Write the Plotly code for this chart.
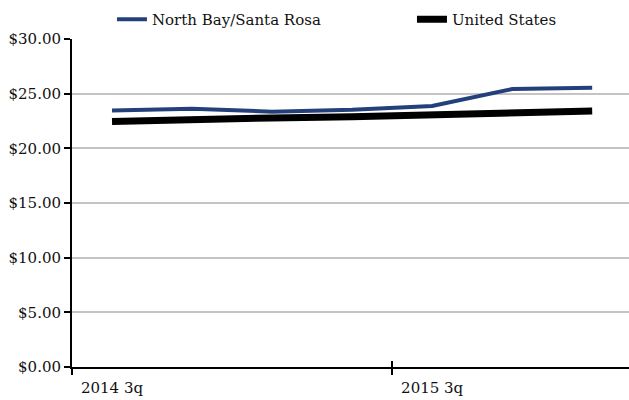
import plotly.graph_objects as go

# Average hourly wage by quarter
quarters = ["2014 3q", "2014 4q", "2015 1q", "2015 2q", "2015 3q", "2015 4q", "2016 1q"]
north_bay = [23.45, 23.62, 23.35, 23.52, 23.88, 25.42, 25.55]
united_states = [22.45, 22.68, 22.78, 22.9, 23.08, 23.36, 23.42]

label_quarters = ["2014 3q", "2015 3q"]
y_ticks = [0, 5, 10, 15, 20, 25, 30]

xpos = list(range(len(quarters)))
label_pos = [quarters.index(q) for q in label_quarters]
boundary_pos = [p - 0.5 for p in label_pos]
x_range = [-0.5, 6.46]

FONT = "DejaVu Serif"
TXT = dict(family=FONT, size=15, color="#111111")

fig = go.Figure()
fig.add_trace(go.Scatter(
    x=xpos, y=north_bay, name="North Bay/Santa Rosa", mode="lines",
    line=dict(color="#24407a", width=4), xaxis="x", legendwidth=255,
))
fig.add_trace(go.Scatter(
    x=xpos, y=united_states, name="United States", mode="lines",
    line=dict(color="#000000", width=7), xaxis="x",
))

fig.update_layout(
    width=629, height=400,
    margin=dict(l=72, r=0, t=39, b=33, autoexpand=False),
    plot_bgcolor="white", paper_bgcolor="white",
    font=TXT,
    showlegend=True,
    legend=dict(
        orientation="h", x=0.178, y=0.9925, xref="container", yref="container",
        yanchor="top", xanchor="left",
        font=TXT, itemwidth=30, bgcolor="rgba(0,0,0,0)",
    ),
    xaxis=dict(
        range=x_range, showgrid=False, zeroline=False,
        tickmode="array", tickvals=boundary_pos, ticktext=["", ""],
        ticks="outside", ticklen=6, tickwidth=2, tickcolor="#000",
        showline=True, linecolor="#000", linewidth=2,
        showticklabels=False, layer="above traces",
    ),
    xaxis2=dict(
        overlaying="x", side="bottom", range=x_range, showgrid=False,
        zeroline=False, tickmode="array", tickvals=boundary_pos,
        ticks="inside", ticklen=6, tickwidth=2, tickcolor="#000",
        showticklabels=False, showline=False,
    ),
    xaxis3=dict(
        overlaying="x", side="bottom", range=x_range, showgrid=False,
        zeroline=False, tickmode="array", tickvals=label_pos,
        ticktext=label_quarters, ticks="", ticklabelstandoff=10,
        showline=False, tickfont=TXT,
    ),
    yaxis=dict(
        range=[0, 30], tickmode="array", tickvals=y_ticks,
        ticktext=[f"${v:.2f}" for v in y_ticks],
        showgrid=True, gridcolor="#c4c4c4", gridwidth=1.5,
        zeroline=False, showline=True, linecolor="#000", linewidth=2,
        ticks="outside", ticklen=6, tickwidth=2, tickcolor="#000",
        ticklabelstandoff=0,
        tickfont=TXT,
    ),
)

# empty traces so the overlay axes are drawn
fig.add_trace(go.Scatter(x=[None], y=[None], xaxis="x2", showlegend=False, hoverinfo="skip"))
fig.add_trace(go.Scatter(x=[None], y=[None], xaxis="x3", showlegend=False, hoverinfo="skip"))

fig.write_html("out.html")
